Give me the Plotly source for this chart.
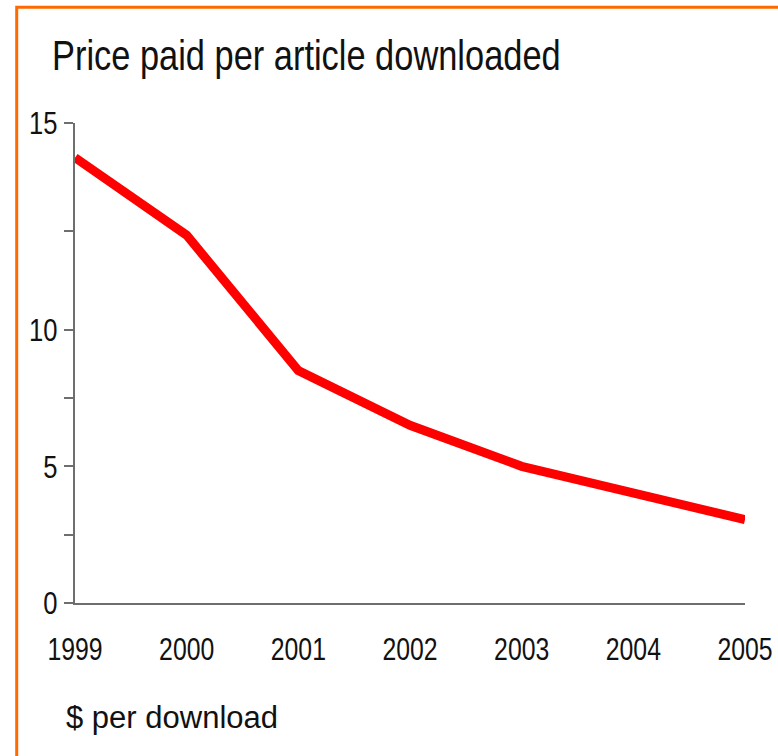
import numpy as np
import plotly.graph_objects as go

# Average price paid per article downloaded, US$
years = [1999, 2000, 2001, 2002, 2003, 2004, 2005]
price = [14.2, 12.4, 8.5, 6.5, 5.0, 4.05, 3.05]

# Value axis ticks (major ticks labelled, minor ticks unlabelled)
y_ticks = [0, 2.5, 5, 7.5, 10, 12.5, 15]
y_tick_text = ["0", "", "5", "", "10", "", "15"]

# The printed value scale is stretched above 10: each step gets its own height.
SCALE_REAL = [0, 10, 12.5, 15]
SCALE_DRAWN = [0, 10, 13.6, 17.56]


def to_axis(v):
    return np.interp(v, SCALE_REAL, SCALE_DRAWN)


# Texts set in this family get squeezed to a narrow face after drawing.
NARROW = "Liberation Sans Narrow, Liberation Sans, Arial, sans-serif"
REGULAR = "Liberation Sans, Arial, sans-serif"
TEXT = "#111111"
AXIS_GREY = "#6e6e6e"
ORANGE = "#ff6a00"

fig = go.Figure()
fig.add_trace(
    go.Scatter(
        x=years,
        y=to_axis(price),
        mode="lines",
        line=dict(color="#ff0000", width=9),
        cliponaxis=False,
        hoverinfo="skip",
    )
)

fig.update_layout(
    width=778,
    height=756,
    margin=dict(l=75, r=33, t=123, b=153, autoexpand=False),
    paper_bgcolor="white",
    plot_bgcolor="white",
    showlegend=False,
    font=dict(family=NARROW, size=32, color=TEXT),
    title=dict(
        text="Price paid per article downloaded",
        xref="container",
        yref="container",
        x=52 / 778,
        y=1 - 55 / 756,
        xanchor="left",
        yanchor="middle",
        font=dict(family=NARROW, size=43, color=TEXT),
    ),
    xaxis=dict(
        range=[years[0], years[-1]],
        tickvals=years,
        ticktext=[str(y) for y in years],
        showline=True,
        linecolor=AXIS_GREY,
        linewidth=2,
        showgrid=False,
        zeroline=False,
        ticks="",
        ticklabelstandoff=18,
        ticklabeloverflow="allow",
        automargin=False,
        tickfont=dict(family=NARROW, size=31, color=TEXT),
    ),
    yaxis=dict(
        range=[0, SCALE_DRAWN[-1]],
        tickvals=list(to_axis(y_ticks)),
        ticktext=y_tick_text,
        showline=True,
        linecolor=AXIS_GREY,
        linewidth=2,
        showgrid=False,
        zeroline=False,
        ticks="outside",
        ticklen=9,
        tickwidth=2,
        tickcolor=AXIS_GREY,
        automargin=False,
        tickfont=dict(family=NARROW, size=32, color=TEXT),
    ),
    shapes=[
        dict(
            type="rect",
            xref="paper",
            yref="paper",
            x0=-0.087,
            x1=1.08,
            y0=-0.6,
            y1=1.241,
            line=dict(color=ORANGE, width=3),
            fillcolor="rgba(0,0,0,0)",
            layer="below",
        )
    ],
    annotations=[
        dict(
            text="$ per download",
            xref="paper",
            yref="paper",
            x=-0.0164,
            y=-0.239,
            xanchor="left",
            yanchor="middle",
            showarrow=False,
            font=dict(family=REGULAR, size=31, color=TEXT),
        ),
    ],
)

# Condense the narrow-face texts horizontally, keeping their anchors.
condense_js = """
var gd = document.getElementById('{plot_id}');
gd.querySelectorAll('text').forEach(function (t) {
  var fam = t.style.fontFamily || '';
  if (fam.indexOf('Narrow') === -1 || !t.textContent) { return; }
  var w = t.getComputedTextLength();
  if (w > 0) {
    t.setAttribute('lengthAdjust', 'spacingAndGlyphs');
    t.setAttribute('textLength', (w * 0.8).toFixed(2));
  }
});
"""

fig.write_html("out.html", post_script=condense_js)
